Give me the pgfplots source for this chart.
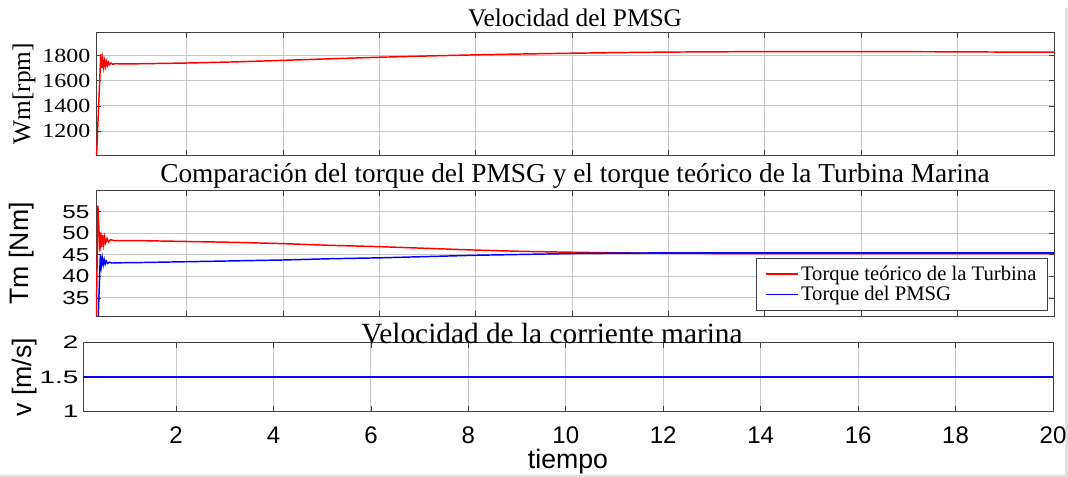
\documentclass[border=0pt]{standalone}
\usepackage{fontspec}
\setmainfont{Liberation Serif}
\setsansfont{Liberation Sans}
\usepackage{graphicx}
\usepackage{pgfplots}
\pgfplotsset{compat=1.18}
\definecolor{axgray}{gray}{0.25}
\definecolor{gridgray}{gray}{0.78}
\definecolor{edgegray}{gray}{0.88}
\begin{document}
\begin{tikzpicture}
\useasboundingbox (0,0) rectangle (801pt,357.75pt);
\fill[edgegray] (798.5pt,0) rectangle (801pt,351.75pt);
\fill[edgegray] (0,0) rectangle (801pt,1.5pt);
\pgfplotsset{
  common/.style={
    scale only axis, anchor=south west, xmax=20,
    axis line style={axgray, line width=0.6pt},
    every tick/.style={axgray, line width=0.6pt},
    tick align=inside, major tick length=4pt,
    grid=major, major grid style={gridgray, line width=0.7pt},
    /pgf/number format/assume math mode=true,
    /pgf/number format/1000 sep={},
    xtick={2,4,...,20},
    title style={at={(axis description cs:0.5,1)}, anchor=base},
    every axis y label/.style={rotate=90, anchor=center},
    clip=true,
  }
}
% ---------------- Panel 1 ----------------
\begin{axis}[common,
  at={(72pt,241.5pt)}, width=718.5pt, height=92pt,
  xmin=0.12, ymin=1010, ymax=1985,
  ytick={1200,1400,1600,1800}, xticklabels={},
  yticklabel={\scalebox{1.2}[1]{\pgfmathprintnumber{\tick}}},
  yticklabel style={font=\fontsize{15}{15}\selectfont, xshift=-0.75pt},
  title={Velocidad del PMSG}, title style={font=\fontsize{19}{22}\selectfont, yshift=-1.5pt},
  ylabel={Wm[rpm]},
  ylabel style={font=\fontsize{19}{19}\selectfont, at={([xshift=-54pt]axis description cs:0,0.5)}},
]
\addplot[draw=red, line width=1.1pt] coordinates {
(0.12,900) (0.22,1812) (0.24,1700) (0.26,1775) (0.28,1705) (0.30,1760)
(0.32,1715) (0.34,1752) (0.36,1722) (0.38,1746) (0.40,1728) (0.43,1741)
(0.47,1731) (0.52,1737) (0.6,1734) (1,1735) (2,1741) (3,1750) (4,1762)
(5,1775) (6,1787) (7,1797) (8,1806) (9,1813) (10,1819) (11,1824) (12,1828)
(13,1830) (14,1832) (15,1832) (16,1832) (17,1831) (18,1830) (19,1828) (20,1827)
};
\end{axis}
% ---------------- Panel 2 ----------------
\begin{axis}[common,
  at={(72pt,120.75pt)}, width=718.5pt, height=94pt,
  xmin=0.12, ymin=30.8, ymax=59.9,
  ytick={35,40,45,50,55}, xticklabels={},
  yticklabel={\scalebox{1.3}[1]{\pgfmathprintnumber{\tick}}},
  yticklabel style={font=\sffamily\fontsize{14}{14}\selectfont, xshift=-1.5pt},
  title={Comparación del torque del PMSG y el torque teórico de la Turbina Marina},
  title style={font=\fontsize{20.5}{22}\selectfont, yshift=0pt},
  ylabel={Tm [Nm]},
  ylabel style={font=\sffamily\fontsize{20}{20}\selectfont, at={([xshift=-55.5pt]axis description cs:0,0.5)}},
  legend style={at={(axis description cs:1,0)}, anchor=south east, xshift=-4.5pt, yshift=3.75pt,
    font=\fontsize{15.5}{17}\selectfont, draw=axgray, fill=white,
    inner xsep=6.5pt, inner ysep=4pt, row sep=-1pt},
  legend cell align=left,
  legend image code/.code={\draw[#1] (0pt,0pt) -- (24pt,0pt);},
]
\addplot[draw=red, line width=1.1pt] coordinates {
(0.12,25) (0.16,56.4) (0.20,45.8) (0.22,50.2) (0.24,46.8) (0.26,49.6)
(0.28,47.4) (0.30,49.1) (0.32,47.8) (0.35,48.8) (0.38,48.0) (0.42,48.5)
(0.5,48.3) (1,48.3) (2,48.1) (3,47.9) (4,47.6) (5,47.2) (6,46.9) (7,46.5)
(8,46.1) (9,45.8) (10,45.6) (11,45.45) (12,45.35) (13,45.3) (14,45.3) (20,45.3)
};
\addlegendentry{Torque teórico de la Turbina}
\addplot[draw=blue, line width=1.1pt] coordinates {
(0.15,25) (0.21,44.9) (0.23,42.4) (0.25,44.3) (0.27,42.7) (0.29,43.9)
(0.31,42.9) (0.33,43.6) (0.36,43.0) (0.40,43.3) (0.45,43.1) (0.6,43.15)
(1,43.2) (2,43.4) (3,43.6) (4,43.8) (5,44.1) (6,44.3) (7,44.6) (8,44.9)
(9,45.1) (10,45.3) (11,45.4) (12,45.45) (20,45.45)
};
\addlegendentry{Torque del PMSG}
\end{axis}
% ---------------- Panel 3 ----------------
\begin{axis}[common,
  at={(62.25pt,49pt)}, width=727.5pt, height=51.75pt,
  xmin=0.09, ymin=1, ymax=2,
  ytick={1,1.5,2},
  yticklabel={\scalebox{1.55}[1]{\pgfmathprintnumber{\tick}}},
  yticklabel style={font=\sffamily\fontsize{13.5}{13.5}\selectfont},
  xticklabel style={font=\sffamily\fontsize{18}{18}\selectfont, yshift=-8pt},
  title={Velocidad de la corriente marina}, title style={font=\fontsize{22}{22}\selectfont, xshift=-12pt, yshift=-7pt},
  ylabel={v [m/s]},
  ylabel style={font=\sffamily\fontsize{20}{20}\selectfont, at={([xshift=-43.5pt]axis description cs:0,0.5)}},
  xlabel={tiempo},
  xlabel style={font=\sffamily\fontsize{20}{20}\selectfont, at={([yshift=-42.5pt]axis description cs:0.5,0)}, anchor=base},
]
\addplot[draw=blue, line width=1.1pt] coordinates {(0.09,1.5) (20,1.5)};
\end{axis}
\end{tikzpicture}
\end{document}
